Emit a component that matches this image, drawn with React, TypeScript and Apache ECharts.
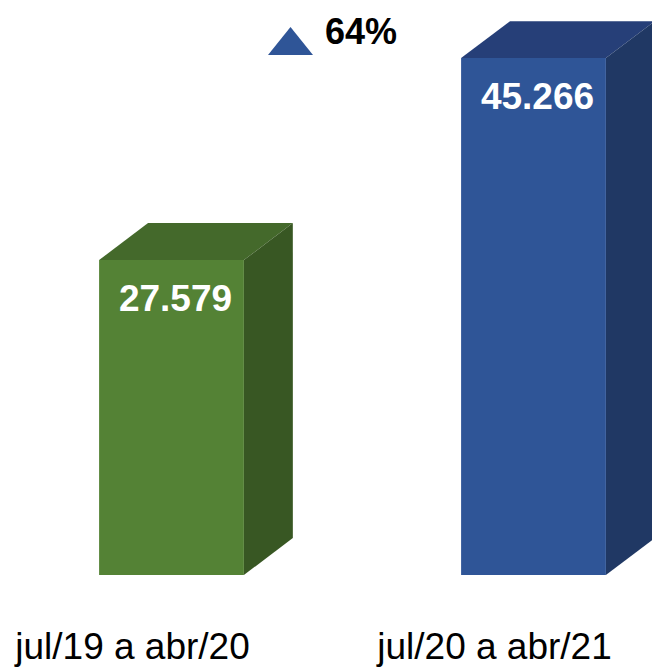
import React, { useEffect, useRef } from "react";
import * as echarts from "echarts";

const categories = ["jul/19 a abr/20", "jul/20 a abr/21"];
const values = [27579, 45266];
const valueLabels = ["27.579", "45.266"];
const growthLabel = "64%";

const frontColors = ["#548235", "#2f5597"];
const topColors = ["#44692b", "#263f78"];
const sideColors = ["#385723", "#203864"];

export default function App() {
  const ref = useRef<HTMLDivElement>(null);
  useEffect(() => {
    if (!ref.current) return;
    const chart = echarts.init(ref.current, null, { renderer: "svg" });
    chart.setOption({
      animation: false,
      grid: { left: 0, right: 0, top: 4, bottom: 92 },
      xAxis: { type: "value", min: -0.47376, max: 1.32735, show: false, splitLine: { show: false } },
      yAxis: { type: "value", min: 0, max: 50000, show: false, splitLine: { show: false } },
      series: [
        {
          type: "custom",
          data: values.map((v, i) => [i, v]),
          renderItem: (params: any, api: any) => {
            const i = api.value(0);
            const v = api.value(1);
            const top = api.coord([i, v]);
            const base = api.coord([i, 0]);
            const band = api.size([1, 0])[0];
            const w = band * 0.4;
            const dx = w * 0.338;
            const dy = -w * 0.255;
            const x0 = top[0] - w / 2;
            const x1 = top[0] + w / 2;
            const yt = top[1];
            const yb = base[1];
            const idx = params.dataIndex;
            return {
              type: "group",
              children: [
                {
                  type: "polygon",
                  shape: { points: [[x0, yt], [x1, yt], [x1 + dx, yt + dy], [x0 + dx, yt + dy]] },
                  style: { fill: topColors[idx] },
                },
                {
                  type: "polygon",
                  shape: { points: [[x1, yt], [x1 + dx, yt + dy], [x1 + dx, yb + dy], [x1, yb]] },
                  style: { fill: sideColors[idx] },
                },
                {
                  type: "rect",
                  shape: { x: x0, y: yt, width: w, height: yb - yt },
                  style: { fill: frontColors[idx] },
                },
                {
                  type: "text",
                  x: top[0] + 4,
                  y: yt + 38,
                  style: {
                    text: valueLabels[idx],
                    fill: "#fff",
                    fontSize: 37,
                    fontWeight: "bold",
                    fontFamily: "Liberation Sans, Arial, sans-serif",
                    align: "center",
                    verticalAlign: "middle",
                  },
                },
                {
                  type: "text",
                  x: top[0] - 39,
                  y: yb + 71,
                  style: {
                    text: categories[idx],
                    fill: "#000",
                    fontSize: 37,
                    fontFamily: "Liberation Sans, Arial, sans-serif",
                    align: "center",
                    verticalAlign: "middle",
                  },
                },
              ],
            };
          },
        },
      ],
      graphic: [
        {
          type: "polygon",
          shape: { points: [[268, 55], [290.5, 27], [313, 55]] },
          style: { fill: "#2f5597" },
        },
        {
          type: "text",
          left: 325,
          top: 13,
          style: {
            text: growthLabel,
            fill: "#000",
            fontSize: 36,
            fontWeight: "bold",
            fontFamily: "Liberation Sans, Arial, sans-serif",
          },
        },
      ],
    });
    return () => chart.dispose();
  }, []);
  return (
    <div
      ref={ref}
      style={{ position: "absolute", left: 0, top: 0, width: 652, height: 667 }}
    />
  );
}
